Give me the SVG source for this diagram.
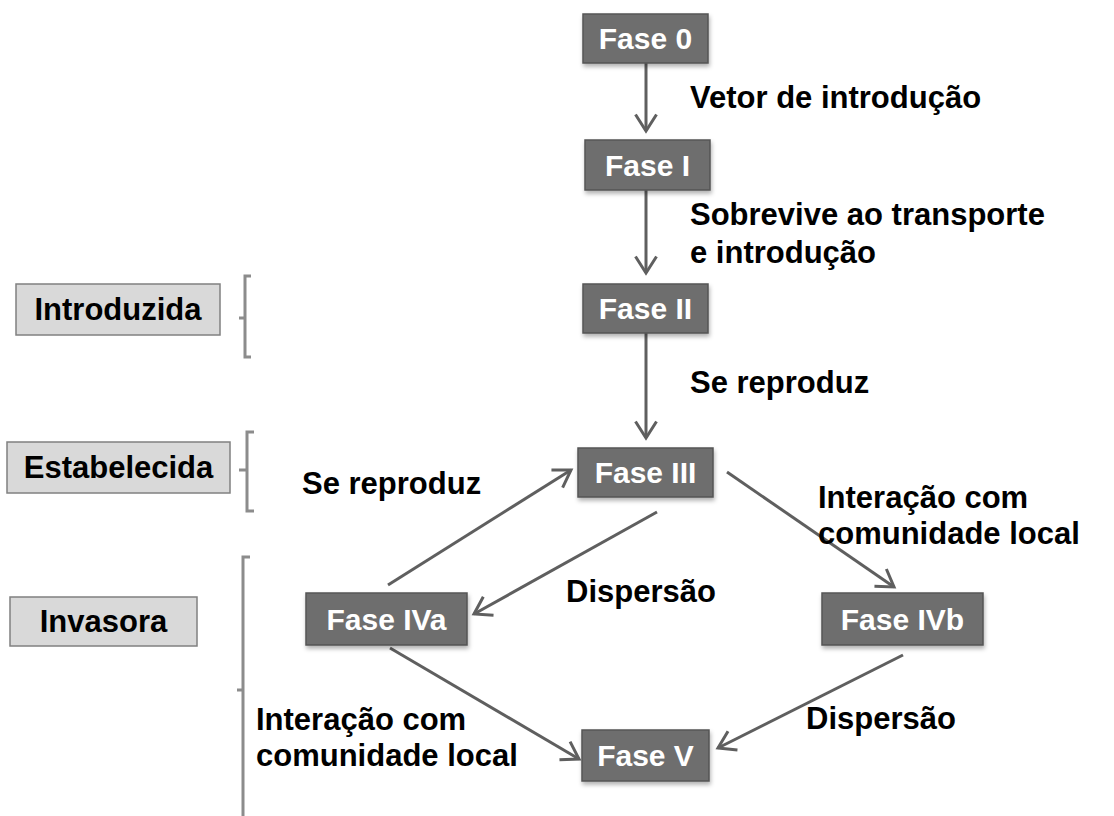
<svg xmlns="http://www.w3.org/2000/svg" width="1114" height="816" viewBox="0 0 1114 816">
<defs>
<style>
.node rect{fill:#6e6e6e;stroke:#555;stroke-width:1.5;filter:url(#sh)}
.node text{fill:#fff;font-family:"Liberation Sans",Arial,sans-serif;font-weight:bold;font-size:30px;text-anchor:middle}
.lab rect{fill:#d9d9d9;stroke:#808080;stroke-width:1.5}
.lab text{fill:#000;font-family:"Liberation Sans",Arial,sans-serif;font-weight:bold;font-size:31px;text-anchor:middle}
.t{fill:#000;font-family:"Liberation Sans",Arial,sans-serif;font-weight:bold;font-size:31px}
.c line{stroke:#5f5f5f;stroke-width:3;marker-end:url(#ah)}
.br{fill:none;stroke:#8c8c8c;stroke-width:3}
</style>
<filter id="sh" x="-10%" y="-10%" width="125%" height="135%">
<feDropShadow dx="1" dy="3" stdDeviation="2" flood-color="#000" flood-opacity="0.3"/>
</filter>
<marker id="ah" markerWidth="9" markerHeight="9" refX="6.5" refY="4.5" orient="auto" markerUnits="strokeWidth">
<path d="M1,1 L6.5,4.5 L1,8" fill="none" stroke="#5f5f5f" stroke-width="1"/>
</marker>
</defs>
<rect width="1114" height="816" fill="#fff"/>
<g class="c" id="connectors">
<line x1="646" y1="63" x2="646" y2="131"/>
<line x1="646" y1="190" x2="646" y2="273"/>
<line x1="646" y1="333" x2="646" y2="438"/>
<line x1="388" y1="585" x2="571" y2="470"/>
<line x1="657" y1="512" x2="474" y2="614"/>
<line x1="727" y1="472" x2="894" y2="587"/>
<line x1="390" y1="648" x2="579" y2="759"/>
<line x1="903" y1="655" x2="718" y2="748"/>
</g>
<g id="fase0" class="node"><rect x="583" y="14" width="125" height="49"/><text x="645.5" y="49">Fase 0</text></g>
<g id="fase1" class="node"><rect x="585" y="140" width="125" height="50"/><text x="647.5" y="176">Fase I</text></g>
<g id="fase2" class="node"><rect x="583" y="284" width="125" height="49"/><text x="645.5" y="319">Fase II</text></g>
<g id="fase3" class="node"><rect x="578" y="448" width="135" height="49"/><text x="645.5" y="483">Fase III</text></g>
<g id="fase4a" class="node"><rect x="306" y="593" width="161" height="52"/><text x="386.5" y="630">Fase IVa</text></g>
<g id="fase4b" class="node"><rect x="822" y="593" width="161" height="52"/><text x="902.5" y="630">Fase IVb</text></g>
<g id="fase5" class="node"><rect x="582" y="730" width="127" height="51"/><text x="645.5" y="766">Fase V</text></g>
<g id="introduzida" class="lab"><rect x="16" y="284" width="204" height="51"/><text x="118" y="320">Introduzida</text></g>
<g id="estabelecida" class="lab"><rect x="7" y="442" width="223" height="51"/><text x="118.5" y="478">Estabelecida</text></g>
<g id="invasora" class="lab"><rect x="10" y="597" width="187" height="49"/><text x="103.5" y="632">Invasora</text></g>
<g id="brackets">
<path class="br" d="M251,276 H245 V357 H251 M245,318 H239"/>
<path class="br" d="M254,432 H247 V511 H254 M247,470 H239"/>
<path class="br" d="M250,557 H243 V816 M243,690 H237"/>
</g>
<g id="labels">
<text class="t" x="690" y="108">Vetor de introdução</text>
<text class="t" x="690" y="225">Sobrevive ao transporte</text>
<text class="t" x="690" y="263">e introdução</text>
<text class="t" x="690" y="393">Se reproduz</text>
<text class="t" x="302" y="494">Se reproduz</text>
<text class="t" x="818" y="508">Interação com</text>
<text class="t" x="818" y="544">comunidade local</text>
<text class="t" x="566" y="602">Dispersão</text>
<text class="t" x="256" y="730">Interação com</text>
<text class="t" x="256" y="766">comunidade local</text>
<text class="t" x="806" y="729">Dispersão</text>
</g>
</svg>
